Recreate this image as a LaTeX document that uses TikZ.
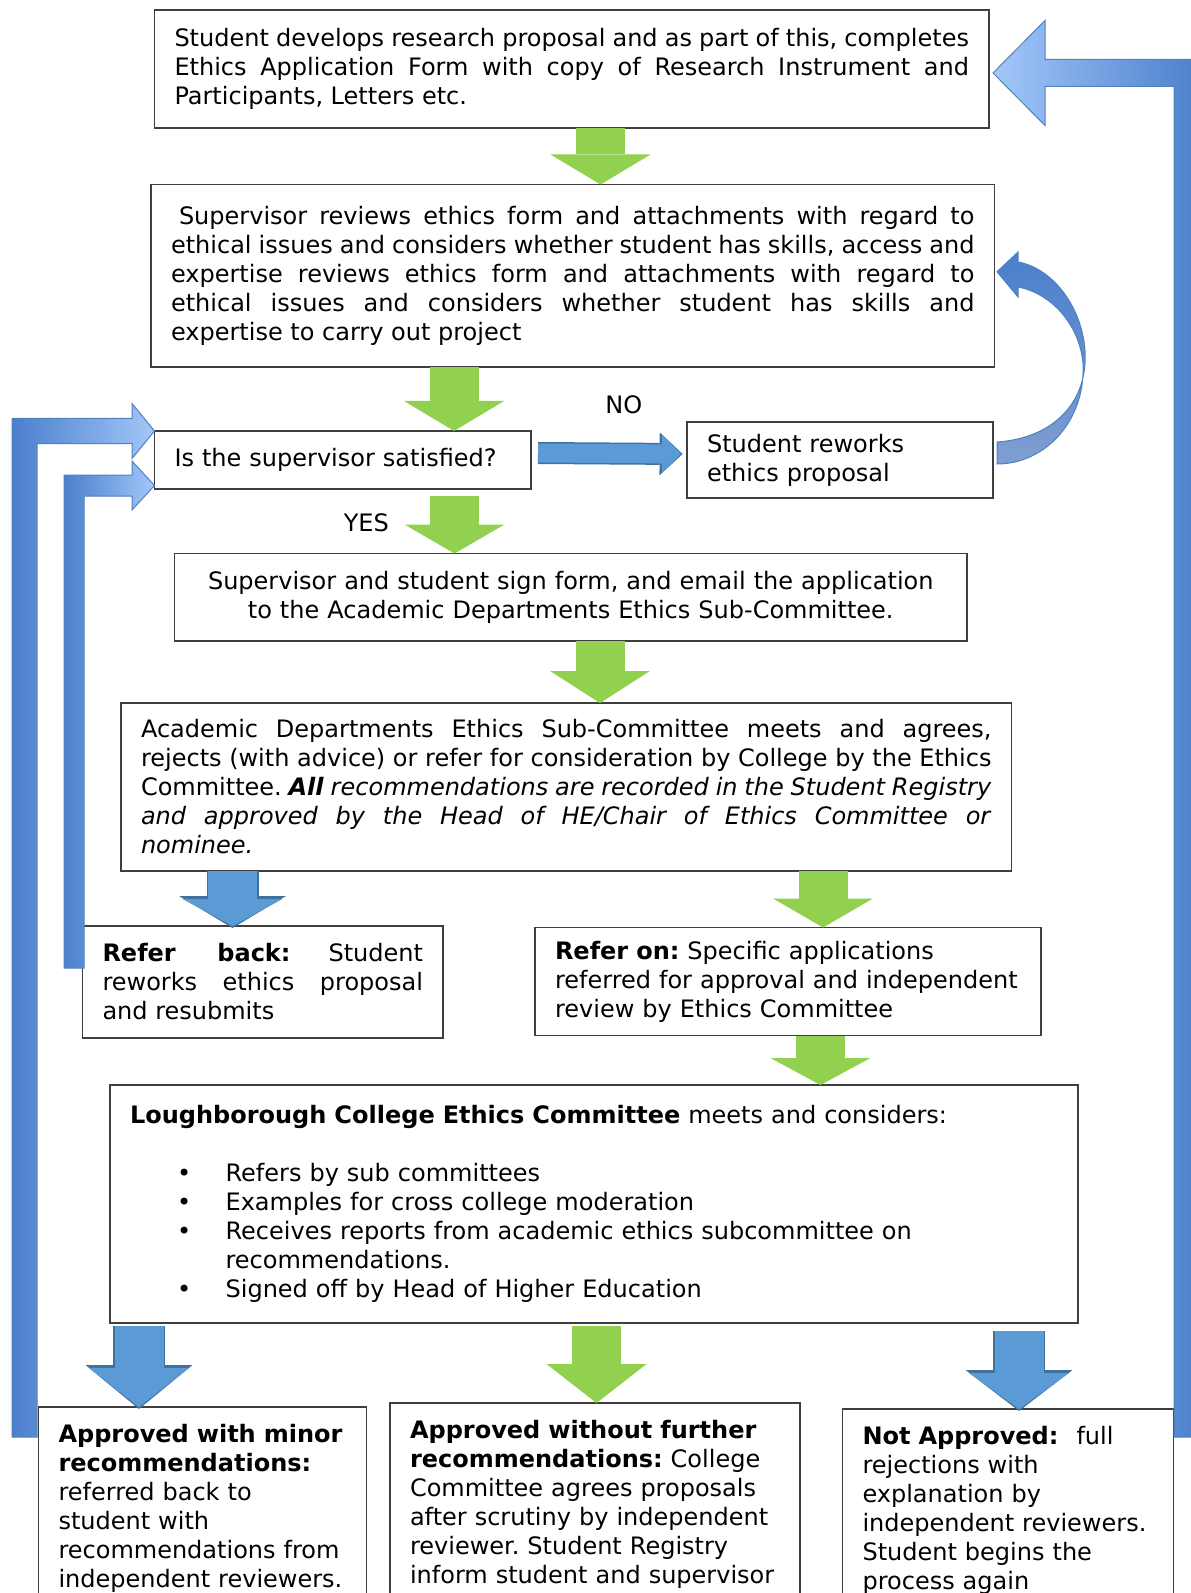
\documentclass[tikz,border=0pt]{standalone}
\usepackage{fontspec}
\setmainfont{DejaVu Sans}
\usepackage{xcolor}
\usepackage{tikz}
\usetikzlibrary{positioning,arrows.meta,calc}

\definecolor{okgreen}{HTML}{92D050}
\definecolor{backblue}{HTML}{5B9BD5}
\definecolor{blueedge}{HTML}{41719C}
\definecolor{loopdark}{HTML}{4A7FCC}
\definecolor{looplight}{HTML}{A3C7F9}
\definecolor{loopline}{HTML}{4F81BD}
\definecolor{curllight}{HTML}{7F9ED2}
\definecolor{boxline}{HTML}{3F3F3F}

\begin{document}
\frenchspacing
\begin{tikzpicture}[
      x=0.5pt, y=-0.5pt,
      font=\fontsize{12pt}{14.5pt}\selectfont,
      box/.style={draw=boxline,line width=0.7pt,outer sep=0pt,inner xsep=10pt,inner ysep=5pt,align=justify},
      result/.style={box,align=left,inner ysep=8.5pt},
      flow/.style={line width=24.5pt,-{Triangle[length=#1,width=50pt,line width=0pt]}},
      flow/.default=15pt,
      edge/.style={preaction={draw=blueedge,line width=26pt,shorten >=-1pt,
                   -{Triangle[length=#1,width=53.5pt,line width=0pt]}}},
      label/.style={text=black,outer sep=0pt},
      loop/.style={draw=loopline,line width=0.5pt,left color=loopdark,right color=looplight},
      curl/.style={draw=loopline,line width=0.5pt,top color=loopdark,bottom color=curllight},
    ]
    \useasboundingbox (0,0) rectangle (1190,1593);

    % Nodes
    \node[box, anchor=north west, text width=397.25pt, minimum height=59pt] (prop) at (154.5,10)
      {Student develops research proposal and as part of this, completes\linebreak
       Ethics Application Form with copy of Research Instrument and\linebreak
       Participants, Letters etc.};
    \node[box, below=28.25pt of prop.south west, anchor=north west, xshift=-1.75pt,
          text width=401.75pt, minimum height=91.25pt] (review)
      {\hspace*{4pt}Supervisor reviews ethics form and attachments with regard to\linebreak
       ethical issues and considers whether student has skills, access and\linebreak
       expertise reviews ethics form and attachments with regard to\linebreak
       ethical issues and considers whether student has skills and\linebreak
       expertise to carry out project};
    \node[box, align=left, below=32pt of review.south west, anchor=north west, xshift=1.75pt,
          text width=168.25pt, minimum height=29pt] (sat) {Is the supervisor satisfied?};
    \node[box, align=left, right=78pt of sat, text width=133pt, minimum height=38pt] (rework)
      {Student reworks\\ ethics proposal};
    \node[box, align=center, below=32.25pt of sat.south west, anchor=north west, xshift=10pt,
          text width=376.25pt, minimum height=43.75pt] (sign)
      {Supervisor and student sign form, and email the application\\
       to the Academic Departments Ethics Sub-Committee.};
    \node[box, below=31pt of sign.south west, anchor=north west, xshift=-26.75pt,
          text width=425.25pt, minimum height=84pt] (acad)
      {Academic Departments Ethics Sub-Committee meets and agrees,\linebreak
       rejects (with advice) or refer for consideration by College by the Ethics\linebreak
       Committee. \textbf{\textit{All}} \textit{recommendations are recorded in the Student Registry}\linebreak
       \textit{and approved by the Head of HE/Chair of Ethics Committee or}\linebreak
       \textit{nominee.}};
    \node[box, below=27.5pt of acad.south west, anchor=north west, xshift=-19.25pt,
          text width=160.25pt, minimum height=56pt] (back)
      {\textbf{Refer back:} Student\linebreak reworks ethics proposal\linebreak and resubmits};
    \node[box, align=left, right=46pt of back.north east, anchor=north west, yshift=-0.75pt,
          text width=233pt, minimum height=54pt] (on)
      {\textbf{Refer on:} Specific applications\\
       referred for approval and independent\\
       review by Ethics Committee};
    \node[box, align=left, below=23.5pt of back.south west, anchor=north west, xshift=13.75pt,
          text width=464pt, minimum height=119pt] (lcec)
      {\textbf{Loughborough College Ethics Committee} meets and considers:\\
       \mbox{}\\
       \hspace*{23.5pt}\makebox[24.3pt][l]{\textbullet}Refers by sub committees\\
       \hspace*{23.5pt}\makebox[24.3pt][l]{\textbullet}Examples for cross college moderation\\
       \hspace*{23.5pt}\makebox[24.3pt][l]{\textbullet}\makebox[416.2pt][s]{Receives reports from academic ethics subcommittee on}\\
       \hspace*{47.8pt}recommendations.\\
       \hspace*{23.5pt}\makebox[24.3pt][l]{\textbullet}Signed off by Head of Higher Education};
    \node[result, below=42pt of lcec.south west, anchor=north west, xshift=-35.75pt,
          text width=144pt] (minor)
      {\textbf{Approved with minor}\\ \textbf{recommendations:}\\ referred back to\\ student with\\
       recommendations from\\ independent reviewers.\\ \mbox{}\\ \mbox{}};
    \node[result, right=11.75pt of minor.north east, anchor=north west, yshift=2pt,
          text width=185pt] (approved)
      {\textbf{Approved without further}\\ \textbf{recommendations:} College\\
       Committee agrees proposals\\ after scrutiny by independent\\ reviewer. Student Registry\\
       inform student and supervisor\\ \mbox{}\\ \mbox{}};
    \node[result, right=21.25pt of approved.north east, anchor=north west, yshift=-3pt,
          text width=145.5pt] (notappr)
      {\textbf{Not Approved:}\hspace{9pt}full\\ rejections with\\ explanation by\\
       independent reviewers.\\ Student begins the\\ process again\\ \mbox{}\\ \mbox{}};

    % Arrows
    \draw[flow, okgreen] ($(prop.south)+(28.75,0)$) coordinate (a1) -- (a1 |- review.north);
    \draw[flow, okgreen] ($(review.south)+(-118.75,0)$) coordinate (a2) -- (a2 |- sat.north);
    \draw[flow=14.5pt, okgreen] ($(sat.south)+(111.75,7)$) coordinate (a3) --
      node[label, pos=0.47, left=29.5pt] (yes) {YES} (a3 |- sign.north);
    \draw[flow=16pt, okgreen] ($(sign.south)+(29.25,0)$) coordinate (a4) -- (a4 |- acad.north);
    \draw[edge=16pt, flow=13.5pt, backblue] ($(acad.south)+(-333.75,0)$) coordinate (a5) -- (a5 |- back.north);
    \draw[flow=14.5pt, okgreen] ($(acad.south)+(256.75,0)$) coordinate (a6) -- (a6 |- on.north);
    \draw[flow=13.5pt, okgreen] ($(on.south)+(32.5,0)$) coordinate (a7) -- (a7 |- lcec.north);
    \draw[edge=22pt, flow=19.5pt, backblue] ($(lcec.south)+(-455,3)$) coordinate (a8) -- (a8 |- minor.north);
    \draw[flow=19.5pt, okgreen] ($(lcec.south)+(2.5,3)$) coordinate (a9) -- (a9 |- approved.north);
    \draw[edge=20.5pt, flow=18pt, backblue] ($(lcec.south)+(425,8)$) coordinate (a10) -- (a10 |- notappr.north);
    \draw[line width=9.5pt, backblue,
          preaction={draw=blueedge, line width=11pt, shorten >=-0.8pt,
                     -{Triangle[length=11.5pt,width=21.5pt,line width=0pt]}},
          -{Triangle[length=9.5pt,width=19pt,line width=0pt]}]
      ($(sat.east)+(7,-7)$) -- node[label, pos=0.6, above=16.4pt] (no) {NO} ($(rework.west)+(-6,-6)$);

    % Loops back
    \coordinate (ob) at ($(minor.north west)+(-14,30)$);
    \shadedraw[loop] ($(ob)+(-12.5,0)$) |- ($(sat.north west)+(-22.5,-12.5)$) -- ++(0,-15)
      -- (sat.north west) -- ++(-22.5,27.5) -- ++(0,-15) -| ($(ob)+(12.5,0)$) -- cycle;
    \coordinate (ib) at ($(back.north west)+(-8.5,42)$);
    \coordinate (it) at ($(sat.south west)+(0,-3.5)$);
    \shadedraw[loop] ($(ib)+(-10,0)$) |- ($(it)+(-22.5,-10.5)$) -- ++(0,-14)
      -- (it) -- ++(-22.5,24.5) -- ++(0,-14) -| ($(ib)+(10,0)$) -- cycle;
    \coordinate (rb) at ($(notappr.north east)+(14,28)$);
    \coordinate (rt) at ($(prop.east)+(4,4)$);
    \shadedraw[loop, left color=looplight, right color=loopdark]
      ($(rb)+(13.5,0)$) |- ($(rt)+(52,-13.5)$) -- ++(0,-39) -- (rt) -- ++(52,52.5)
      -- ++(0,-39) -| ($(rb)+(-13.5,0)$) -- cycle;
    \coordinate (cs) at ($(rework.east)+(4,-7)$);
    \coordinate (ct) at ($(review.east)+(2.5,-4)$);
    \shadedraw[curl] ($(cs)+(0,-11)$) .. controls ($(cs)+(58,-15)$) and ($(cs)+(91,-52)$) .. ($(cs)+(88,-102)$)
      .. controls ($(cs)+(85,-147)$) and ($(ct)+(55,-3.75)$) .. ($(ct)+(21,-9.75)$)
      -- ($(ct)+(21,-19.75)$) -- (ct) -- ($(ct)+(21,25.25)$) -- ($(ct)+(21,15.25)$)
      .. controls ($(ct)+(53,21.25)$) and ($(cs)+(82,-130)$) .. ($(cs)+(86,-90)$)
      .. controls ($(cs)+(89,-32)$) and ($(cs)+(48,11)$) .. ($(cs)+(0,11)$) -- cycle;
  \end{tikzpicture}
\end{document}
